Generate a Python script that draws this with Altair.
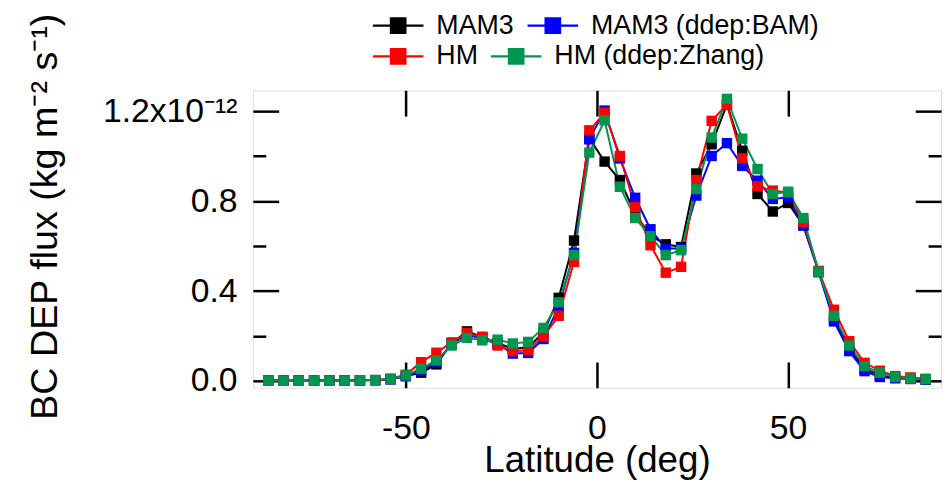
import altair as alt
import pandas as pd

# Latitude band centres (deg)
lat = [-86, -82, -78, -74, -70, -66, -62, -58, -54, -50, -46, -42, -38, -34, -30,
       -26, -22, -18, -14, -10, -6, -2, 2, 6, 10, 14, 18, 22, 26, 30, 34, 38, 42,
       46, 50, 54, 58, 62, 66, 70, 74, 78, 82, 86]

# BC deposition flux, in units of 1e-12 kg m-2 s-1
mam3 = [0.002, 0.002, 0.002, 0.002, 0.002, 0.002, 0.003, 0.004, 0.008, 0.022, 0.037, 0.074,
        0.168, 0.221, 0.196, 0.170, 0.143, 0.150, 0.215, 0.370, 0.625, 1.080, 0.976, 0.894,
        0.745, 0.645, 0.608, 0.596, 0.923, 1.053, 1.230, 1.024, 0.832, 0.754, 0.792, 0.692,
        0.486, 0.275, 0.145, 0.055, 0.025, 0.015, 0.010, 0.007]
mam3_bam = [0.002, 0.002, 0.002, 0.002, 0.002, 0.002, 0.003, 0.004, 0.008, 0.022, 0.045, 0.085,
            0.165, 0.205, 0.190, 0.165, 0.122, 0.125, 0.187, 0.330, 0.570, 1.075, 1.203, 0.990,
            0.815, 0.675, 0.589, 0.589, 0.825, 1.001, 1.058, 0.957, 0.891, 0.810, 0.817, 0.692,
            0.484, 0.265, 0.133, 0.044, 0.018, 0.012, 0.009, 0.006]
hm = [0.002, 0.002, 0.002, 0.002, 0.002, 0.002, 0.003, 0.004, 0.010, 0.028, 0.084, 0.126,
      0.172, 0.214, 0.196, 0.158, 0.133, 0.137, 0.199, 0.290, 0.530, 1.115, 1.193, 1.001,
      0.773, 0.604, 0.482, 0.508, 0.894, 1.157, 1.230, 0.990, 0.866, 0.847, 0.838, 0.707,
      0.490, 0.317, 0.177, 0.081, 0.046, 0.022, 0.016, 0.010]
hm_zhang = [0.002, 0.002, 0.002, 0.002, 0.002, 0.002, 0.003, 0.004, 0.010, 0.025, 0.055, 0.092,
            0.158, 0.192, 0.181, 0.184, 0.167, 0.174, 0.236, 0.350, 0.560, 1.016, 1.159, 0.864,
            0.725, 0.644, 0.560, 0.582, 0.854, 1.083, 1.255, 1.078, 0.943, 0.832, 0.842, 0.725,
            0.486, 0.290, 0.158, 0.066, 0.037, 0.018, 0.011, 0.008]

series_names = ["MAM3", "MAM3 (ddep:BAM)", "HM", "HM (ddep:Zhang)"]
series_colors = ["#000000", "#0000FF", "#FF0000", "#00964F"]
series_values = [mam3, mam3_bam, hm, hm_zhang]

x_ticks = [-50, 0, 50]
y_major = [0.0, 0.4, 0.8, 1.2]
y_minor = [0.2, 0.6, 1.0]

rows = []
for k, (name, vals) in enumerate(zip(series_names, series_values)):
    for la, v in zip(lat, vals):
        rows.append({"lat": la, "flux": v, "model": name, "order": k, "row": k // 2})
df = pd.DataFrame(rows)

FONT = "Liberation Sans"
MAJ = 26
MIN = 13

xscale = alt.Scale(domain=[-90, 90], nice=False, zero=False)
yscale = alt.Scale(domain=[-0.03, 1.293], nice=False, zero=False)

base = alt.Chart(df)

LEG_SYMBOL = "M-1,-0.04H1V0.04H-1Z M-0.33,-0.33H0.33V0.33H-0.33Z"


def legend_for(ly):
    return alt.Legend(title=None, orient="none", legendX=121, legendY=ly,
                      direction="horizontal", columnPadding=13, labelOffset=13,
                      labelLimit=400, symbolType=LEG_SYMBOL, symbolSize=2601,
                      symbolStrokeWidth=0, labelFont=FONT, labelFontSize=27,
                      labelColor="black", padding=0)


def cscale(r):
    return alt.Scale(domain=series_names[2 * r:2 * r + 2], range=series_colors[2 * r:2 * r + 2])


def line_layer(r, xaxis, yaxis):
    return base.transform_filter(alt.datum.row == r).mark_line(strokeWidth=2).encode(
        x=alt.X("lat:Q", scale=xscale, axis=xaxis),
        y=alt.Y("flux:Q", scale=yscale, axis=yaxis),
        color=alt.Color("model:N", scale=cscale(r), legend=None),
        detail="model:N",
        order="lat:Q",
    )


def point_layer(r, ly):
    return base.transform_filter(alt.datum.row == r).mark_point(
        shape="square", filled=True, size=110, opacity=1).encode(
        x=alt.X("lat:Q", scale=xscale, axis=None),
        y=alt.Y("flux:Q", scale=yscale, axis=None),
        color=alt.Color("model:N", scale=cscale(r), legend=legend_for(ly)),
        order="order:Q",
    )


xlab_axis = alt.Axis(orient="bottom", values=x_ticks, ticks=False, domain=False, grid=False,
                     labelFontSize=34, labelFont=FONT, labelColor="black", labelPadding=24,
                     labelExpr="'' + datum.value",
                     title="Latitude (deg)", titleFont=FONT, titleFontSize=37,
                     titleFontWeight="normal", titleColor="black",
                     titleBaseline="alphabetic", titleY=84)
ylab_axis = alt.Axis(orient="left", values=y_major, ticks=False, domain=False, grid=False,
                     labelFontSize=34, labelFont=FONT, labelColor="black", labelPadding=16,
                     labelExpr="datum.value == 1.2 ? '1.2x10⁻¹²' : format(datum.value, '.1f')",
                     title="BC DEP flux (kg m⁻² s⁻¹)", titleFont=FONT, titleFontSize=38,
                     titleFontWeight="normal", titleColor="black",
                     titleX=-190, titleY=127)

lines_a = line_layer(0, xlab_axis, ylab_axis)
lines_b = line_layer(1, None, None)
points_a = point_layer(0, -91)
points_b = point_layer(1, -60)


def tick_layer(xaxis, yaxis):
    return base.mark_point(opacity=0).encode(
        x=alt.X("lat:Q", scale=xscale, axis=xaxis),
        y=alt.Y("flux:Q", scale=yscale, axis=yaxis),
    )


def tick_axis(orient, values, size):
    return alt.Axis(orient=orient, values=values, tickSize=size, offset=-size, labels=False,
                    domain=False, grid=False, title=None, tickColor="black", tickWidth=2.5)


t1 = tick_layer(tick_axis("bottom", x_ticks, MAJ), tick_axis("left", y_major, MAJ))
t2 = tick_layer(tick_axis("top", x_ticks, MAJ), tick_axis("right", y_major, MAJ))
t3 = tick_layer(None, tick_axis("left", y_minor, MIN))
t4 = tick_layer(None, tick_axis("right", y_minor, MIN))

chart = alt.layer(lines_a, lines_b, points_a, points_b, t1, t2, t3, t4).resolve_axis(
    x="independent", y="independent"
).resolve_scale(color="independent").resolve_legend(color="independent").properties(
    width=694, height=300,
    autosize=alt.AutoSizeParams(type="none"),
    padding={"left": 247, "top": 81, "right": 2, "bottom": 93},
).configure_view(stroke="black", strokeWidth=2.5).configure(background="white")

chart.save("out.html", embed_options={"renderer": "svg", "actions": False})
